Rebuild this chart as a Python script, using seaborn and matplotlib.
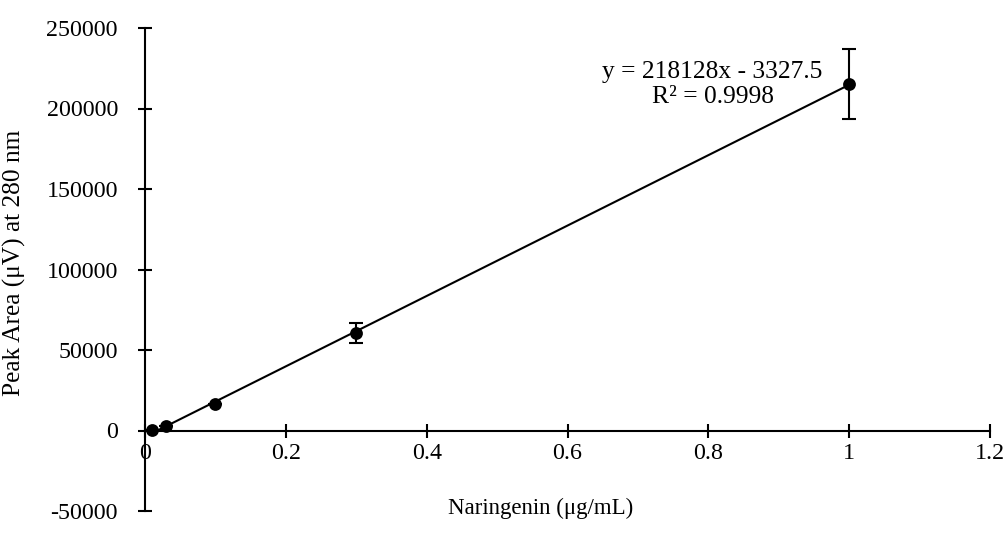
import numpy as np
import pandas as pd
import matplotlib
matplotlib.use("Agg")
import matplotlib.pyplot as plt
import seaborn as sns

# Data
concentration = [0.01, 0.03, 0.1, 0.3, 1.0]
peak_area = [300, 2700, 16700, 60500, 215200]
peak_err = [0, 0, 0, 6000, 21500]
eq_line1 = "y = 218128x - 3327.5"
eq_line2 = "R² = 0.9998"
x_ticks = [0, 0.2, 0.4, 0.6, 0.8, 1, 1.2]
x_tick_labels = ["0", "0.2", "0.4", "0.6", "0.8", "1", "1.2"]
y_ticks = [-50000, 0, 50000, 100000, 150000, 200000, 250000]

sns.set_style("ticks")
plt.rcParams['font.family'] = ['Liberation Serif', 'DejaVu Serif']
plt.rcParams['text.color'] = 'black'
plt.rcParams['axes.labelcolor'] = 'black'

FS = 17.3

df = pd.DataFrame({"conc": concentration, "area": peak_area, "err": peak_err})

fig = plt.figure(figsize=(10.08, 5.4), dpi=100)
ax = fig.add_axes([145/1008, 1 - 511/540, (990-145)/1008, (511-28)/540])

sns.regplot(data=df, x="conc", y="area", ci=None, ax=ax, scatter=False,
            line_kws=dict(color="black", lw=1.5))
ax.errorbar(df["conc"], df["area"], yerr=df["err"], fmt="none",
            ecolor="black", elinewidth=1.5, capsize=5, capthick=1.5, zorder=3)
sns.scatterplot(data=df, x="conc", y="area", ax=ax, color="black", s=85,
                edgecolor="black", linewidth=0, zorder=4)

ax.set_xlim(0, 1.2)
ax.set_ylim(-50000, 250000)
ax.set_xticks(x_ticks)
ax.set_xticklabels(x_tick_labels)
ax.set_yticks(y_ticks)
ax.set_yticklabels([str(v) for v in y_ticks])

ax.spines['top'].set_visible(False)
ax.spines['right'].set_visible(False)
ax.spines['bottom'].set_position(('data', 0))
ax.spines['left'].set_position(('data', 0))
for s in ['bottom', 'left']:
    ax.spines[s].set_linewidth(1.5)
    ax.spines[s].set_color('black')
ax.tick_params(axis='both', direction='inout', length=10, width=1.5,
               labelsize=FS, colors='black')
ax.tick_params(axis='x', pad=4)
ax.tick_params(axis='y', pad=14.5)

ax.set_xlabel("Naringenin (μg/mL)", fontsize=16.5, color='black')
ax.set_ylabel("Peak Area (μV) at 280 nm", fontsize=18.3, color='black')
ax.xaxis.set_label_coords((541-145)/(990-145), 1 - (498-28)/(511-28))
ax.yaxis.set_label_coords((26-145)/(990-145), 1 - (263-28)/(511-28))

ax.text(0.806, 219000, eq_line1, ha="center", va="baseline", fontsize=18.4, color='black')
ax.text(0.806, 203400, eq_line2, ha="center", va="baseline", fontsize=18.4, color='black')

fig.savefig("out.png", dpi=100)
